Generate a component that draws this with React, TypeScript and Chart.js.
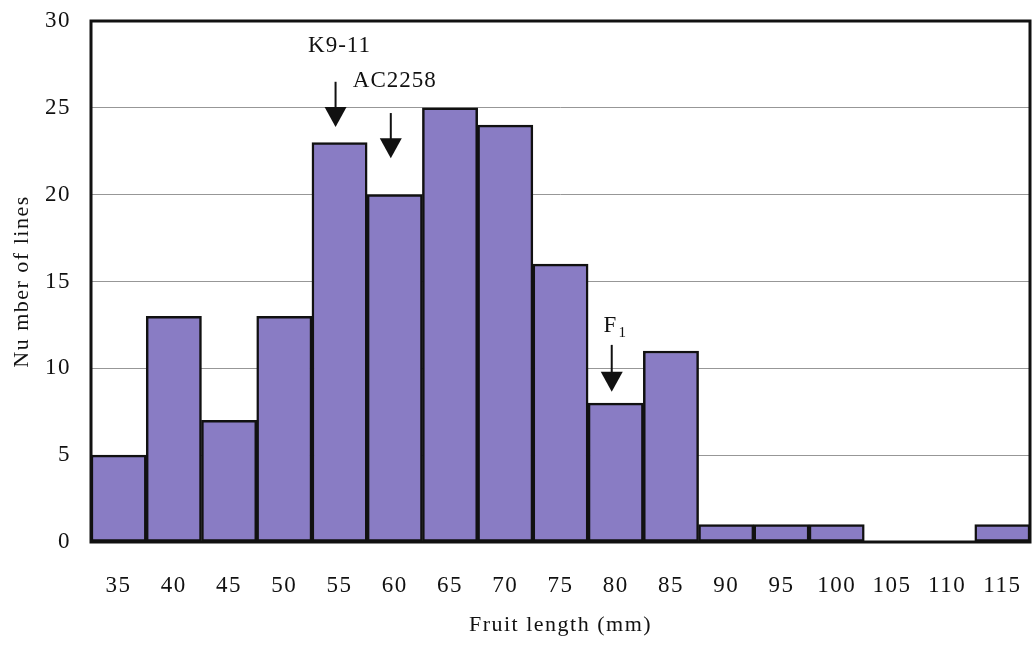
import React, { useEffect, useRef } from "react";
import { Chart, registerables } from "chart.js";

Chart.register(...registerables);

const categories = ["35", "40", "45", "50", "55", "60", "65", "70", "75", "80", "85", "90", "95", "100", "105", "110", "115"];
const counts = [5, 13, 7, 13, 23, 20, 25, 24, 16, 8, 11, 1, 1, 1, 0, 0, 1];
const yTicks = [0, 5, 10, 15, 20, 25, 30];

const annotLabels = ["K9-11", "AC2258", "F"];
const annotSubs = ["", "", "1"];
const annotCategory = ["55", "60", "80"];
const annotTextValue = [28.2, 26.2, 12.1];
const annotArrowStart = [26.5, 24.7, 11.35];
const annotArrowTip = [23.9, 22.1, 8.65];

const SERIF = "'Liberation Serif', 'Times New Roman', serif";
const SPACING = "1.5px";

const framePlugin = {
  id: "frame",
  beforeInit(chart: any) {
    chart.ctx.letterSpacing = SPACING;
  },
  beforeUpdate(chart: any) {
    chart.ctx.letterSpacing = SPACING;
  },
  beforeDraw(chart: any) {
    chart.ctx.letterSpacing = SPACING;
  },
  afterDatasetsDraw(chart: any) {
    const { ctx, chartArea, scales } = chart;
    ctx.save();
    ctx.strokeStyle = "#111";
    ctx.lineWidth = 3;
    ctx.strokeRect(chartArea.left, chartArea.top, chartArea.right - chartArea.left, chartArea.bottom - chartArea.top);
    ctx.fillStyle = "#111";
    ctx.strokeStyle = "#111";
    for (let i = 0; i < annotLabels.length; i++) {
      const idx = categories.indexOf(annotCategory[i]);
      const x = scales.x.getPixelForValue(idx);
      const yText = scales.y.getPixelForValue(annotTextValue[i]);
      const yStart = scales.y.getPixelForValue(annotArrowStart[i]);
      const yTip = scales.y.getPixelForValue(annotArrowTip[i]);
      ctx.font = `23px ${SERIF}`;
      ctx.letterSpacing = "1px";
      ctx.textBaseline = "alphabetic";
      const w = ctx.measureText(annotLabels[i]).width;
      let sw = 0;
      if (annotSubs[i]) {
        ctx.font = `15px ${SERIF}`;
        sw = ctx.measureText(annotSubs[i]).width + 2;
        ctx.font = `23px ${SERIF}`;
      }
      const tx = x - (w + sw) / 2;
      ctx.textAlign = "left";
      ctx.fillText(annotLabels[i], tx, yText);
      if (annotSubs[i]) {
        ctx.font = `15px ${SERIF}`;
        ctx.fillText(annotSubs[i], tx + w + 1, yText + 5);
      }
      const ax = x - 4;
      const headH = 20;
      ctx.lineWidth = 2;
      ctx.beginPath();
      ctx.moveTo(ax, yStart);
      ctx.lineTo(ax, yTip - headH + 2);
      ctx.stroke();
      ctx.beginPath();
      ctx.moveTo(ax - 11, yTip - headH);
      ctx.lineTo(ax + 11, yTip - headH);
      ctx.lineTo(ax, yTip);
      ctx.closePath();
      ctx.fill();
    }
    ctx.restore();
  },
};

export default function App() {
  const ref = useRef<HTMLCanvasElement | null>(null);
  useEffect(() => {
    if (!ref.current) return;
    const chart = new Chart(ref.current, {
      type: "bar",
      data: {
        labels: categories,
        datasets: [
          {
            data: counts,
            backgroundColor: "rgb(137,124,196)",
            borderColor: "#111",
            borderWidth: 2.5,
            borderSkipped: false,
            categoryPercentage: 1,
            barPercentage: 1,
          },
        ],
      },
      options: {
        animation: false,
        responsive: false,
        events: [],
        layout: { padding: { left: 0, right: 6, top: 21, bottom: 0 } },
        plugins: { legend: { display: false }, tooltip: { enabled: false } },
        scales: {
          x: {
            grid: { display: false, drawTicks: false },
            border: { display: false },
            ticks: { padding: 30, color: "#111", font: { family: SERIF, size: 23 }, maxRotation: 0, autoSkip: false },
            title: { display: true, text: "Fruit length (mm)", color: "#111", font: { family: SERIF, size: 22 }, padding: { top: 0, bottom: 8 } },
            afterFit(scale: any) {
              scale.height = 104;
              scale.paddingLeft = 0;
              scale.paddingRight = 0;
            },
          },
          y: {
            min: 0,
            max: 30,
            afterBuildTicks(scale: any) {
              scale.ticks = yTicks.map((v) => ({ value: v }));
            },
            grid: { color: "rgba(140,140,140,0.9)", lineWidth: 1, drawTicks: false },
            border: { display: false },
            ticks: { padding: 20, color: "#111", font: { family: SERIF, size: 23 } },
            title: { display: true, text: "Nu mber of lines", color: "#111", font: { family: SERIF, size: 22 }, padding: { top: 9, bottom: 0 } },
            afterFit(scale: any) {
              scale.width = 91;
              scale.paddingTop = 0;
              scale.paddingBottom = 0;
            },
          },
        },
      },
      plugins: [framePlugin],
    });
    return () => chart.destroy();
  }, []);
  return (
    <div style={{ position: "absolute", left: 0, top: 0, width: 1036, height: 646, background: "#fff" }}>
      <canvas ref={ref} width={1036} height={646} />
    </div>
  );
}
